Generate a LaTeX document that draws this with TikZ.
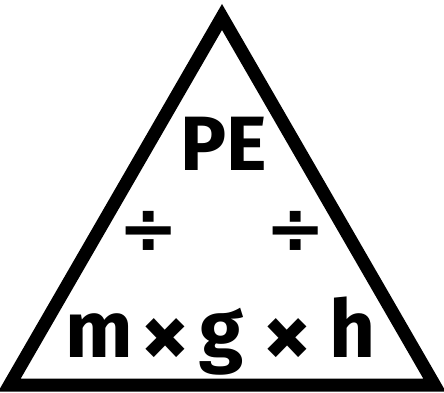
\documentclass[tikz,border=0pt]{standalone}
\usepackage{fontspec}
\setmainfont{Fira Sans}
\newfontfamily\opfont{DejaVu Sans}
\begin{document}
\begin{tikzpicture}[x=1pt,y=-1pt,
  lbl/.style={inner sep=0pt, anchor=base, font=\bfseries\fontsize{80}{80}\selectfont},
  pe/.style={inner sep=0pt, anchor=base, font=\bfseries\fontsize{77}{77}\selectfont},
  op/.style={inner sep=0pt, font=\bfseries\fontsize{96}{96}\selectfont},
  dv/.style={inner sep=0pt, font=\opfont\bfseries\fontsize{72}{72}\selectfont}]
\useasboundingbox (0,0) rectangle (444,393);
\clip (0,0) rectangle (444,393);
\fill[white] (0,0) rectangle (444,393);
\node[lbl, anchor=base] (top) at (294,-20) {g};
\draw[line width=13pt, miter limit=10] (222,17) -- (434.5,385) -- (9.5,385) -- cycle;
\node[pe] (PE) at (224,170) {PE};
\node[dv] (d1) at (148.5,232) {÷};
\node[dv] (d2) at (295.5,232) {÷};
\node[lbl] (m) at (99.5,357) {m};
\node[op] (x1) at (165,343) {×};
\node[lbl] (g) at (222,357) {g};
\node[op] (x2) at (287,343) {×};
\node[lbl] (h) at (353,357) {h};
\end{tikzpicture}
\end{document}
